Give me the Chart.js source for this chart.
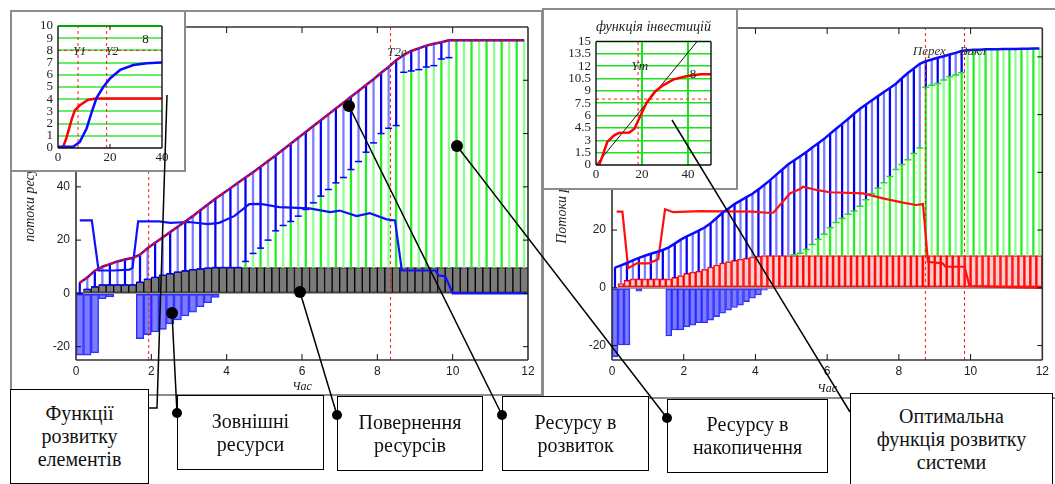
<!DOCTYPE html>
<html lang="uk">
<head>
<meta charset="utf-8">
<title>Потоки ресурсів</title>
<script src="https://cdn.jsdelivr.net/npm/chart.js@4.4.1/dist/chart.umd.min.js"></script>
<style>
body { margin: 0; background: #fff; }
#page { position: relative; width: 1055px; height: 484px; overflow: hidden; background: #fff; font-family: "Liberation Serif", "Times New Roman", serif; }
.frame { position: absolute; border: 2px solid #8c8c8c; box-sizing: border-box; }
.inset { position: absolute; border: 2px solid #8c8c8c; box-sizing: border-box; background: #fff; }
.box { position: absolute; border: 1.5px solid #000; box-sizing: border-box; background: #fff; display: flex; flex-direction: column; justify-content: center; align-items: center; text-align: center; font-family: "Liberation Serif", serif; font-size: 20px; line-height: 23px; color: #111; }
canvas, svg { position: absolute; }
</style>
</head>
<body>
<div id="page">
  <div class="frame" style="left:10px;top:10px;width:533px;height:386px"></div>
  <div class="frame" style="left:542px;top:8px;width:515px;height:391px"></div>
  <canvas id="leftMain" width="531" height="386" style="left:10px;top:10px"></canvas>
  <canvas id="rightMain" width="509" height="388" style="left:544px;top:10px"></canvas>
  <div class="inset" style="left:10px;top:10px;width:176px;height:162px"></div>
  <canvas id="inset1" width="172" height="157" style="left:12px;top:13px"></canvas>
  <div class="inset" style="left:542px;top:8px;width:196px;height:182px"></div>
  <canvas id="inset2" width="190" height="177" style="left:546px;top:11px"></canvas>

  <div class="box" style="left:10px;top:389px;width:139px;height:95px">Функції<br>розвитку<br>елементів</div>
  <div class="box" style="left:177px;top:395px;width:147px;height:75px">Зовнішні<br>ресурси</div>
  <div class="box" style="left:337px;top:396px;width:146px;height:75px">Повернення<br>ресурсів</div>
  <div class="box" style="left:502px;top:396px;width:147px;height:75px">Ресурсу в<br>розвиток</div>
  <div class="box" style="left:667px;top:399px;width:161px;height:74px">Ресурсу в<br>накопичення</div>
  <div class="box" style="left:850px;top:393px;width:203px;height:93px">Оптимальна<br>функція розвитку<br>системи</div>

  <svg width="1055" height="484" style="left:0;top:0">
    <g stroke="#000" stroke-width="1.5" fill="none">
      <polyline points="167,95 157,408 148,408"/>
      <line x1="172" y1="313" x2="177" y2="413"/>
      <line x1="300" y1="292" x2="337" y2="415"/>
      <line x1="349" y1="106" x2="502" y2="415"/>
      <line x1="457" y1="146" x2="667" y2="418"/>
      <line x1="672" y1="120" x2="850" y2="412"/>
    </g>
    <g fill="#000">
      <circle cx="172" cy="313" r="6"/>
      <circle cx="300" cy="292" r="6"/>
      <circle cx="349" cy="106" r="6"/>
      <circle cx="457" cy="146" r="6"/>
      <circle cx="177" cy="413" r="5"/>
      <circle cx="337" cy="415" r="5"/>
      <circle cx="502" cy="415" r="5"/>
      <circle cx="667" cy="418" r="5"/>
    </g>
  </svg>
</div>

<script>
// left panel, step 0.2
const tL = [0.1,0.3,0.5,0.7,0.9,1.1,1.3,1.5,1.7,1.9,2.1,2.3,2.5,2.7,2.9,3.1,3.3,3.5,3.7,3.9,
            4.1,4.3,4.5,4.7,4.9,5.1,5.3,5.5,5.7,5.9,6.1,6.3,6.5,6.7,6.9,7.1,7.3,7.5,7.7,7.9,
            8.1,8.3,8.5,8.7,8.9,9.1,9.3,9.5,9.7,9.9,10.1,10.3,10.5,10.7,10.9,11.1,11.3,11.5,11.7,11.9];
const totalL = [4,6,8.5,10,11,12,12.7,13.3,14.5,17,
                19,21,23,25,27,29,31.2,33.4,35.5,37.5,
                39.5,41.5,43.5,45.5,47.5,49.7,51.8,54,56.2,58.4,
                60.6,62.8,65,67.2,69.4,71.6,73.8,76,78.2,80.4,
                82.8,85,87.5,89.5,91,92,93,93.7,94.3,95,
                95,95,95,95,95,95,95,95,95,95];
const retL = [0,1.5,2.5,3.2,3.2,3.2,3.2,3.2,4.2,5.3,
              6.0,6.8,7.4,8.0,8.5,8.9,9.2,9.5,9.7,9.7,
              9.7,9.7,9.7,9.7,9.7,9.7,9.7,9.7,9.7,9.7,
              9.7,9.7,9.7,9.7,9.7,9.7,9.7,9.7,9.7,9.7,
              9.7,9.7,9.7,9.7,9.7,9.7,9.7,9.7,9.7,9.7,
              9.7,9.7,9.7,9.7,9.7,9.7,9.7,9.7,9.7,9.7];
const extL = [-23.2,-23.2,-22.3,-2,-1.3,0,0,0,-17,-15.5,
              -14.5,-13.5,-11.5,-10,-8.5,-7,-5,-3.5,-1.5,0,
              0,0,0,0,0,0,0,0,0,0, 0,0,0,0,0,0,0,0,0,0,
              0,0,0,0,0,0,0,0,0,0, 0,0,0,0,0,0,0,0,0,0];
const capL = [0,1.5,2.5,3.2,3.2,3.2,3.2,3.2,4.2,5.3,
              6.0,6.8,7.4,8.0,8.5,8.9,9.2,9.5,9.7,9.7,
              9.7,9.7,12,15,17,20,23.5,25.5,27,29,
              31.5,34,36.5,39,41.5,43.5,46.5,49.5,53,56.5,
              60,62,63,83,83.5,84,85,85.5,88,88.5,
              95,95,95,95,95,95,95,95,95,95];
const elemLX = [0.1,0.42,0.6,1.0,1.42,1.5,1.65,2.2,2.5,3.0,3.5,3.8,4.2,4.6,4.9,5.4,6.2,6.75,7.0,7.45,7.8,8.25,8.47,8.65,9.55,9.62,9.8,10.0,12];
const elemLY = [27.4,27.4,8.6,8.6,8.9,9.6,27,27,26.5,26.8,26,26.5,29,33.5,33.6,32.4,31.9,30.5,31.1,29,30.1,27.8,27.4,8.6,8.6,6.7,6.5,0,0];
const markLX = [1.93, 8.35];

// right panel, step 1/6
const tR = [0.083,0.25,0.417,0.583,0.75,0.917,1.083,1.25,1.417,1.583,1.75,1.917,
            2.083,2.25,2.417,2.583,2.75,2.917,3.083,3.25,3.417,3.583,3.75,3.917,
            4.083,4.25,4.417,4.583,4.75,4.917,5.083,5.25,5.417,5.583,5.75,5.917,
            6.083,6.25,6.417,6.583,6.75,6.917,7.083,7.25,7.417,7.583,7.75,7.917,
            8.083,8.25,8.417,8.583,8.75,8.917,9.083,9.25,9.417,9.583,9.75,9.917,
            10.083,10.25,10.417,10.583,10.75,10.917,11.083,11.25,11.417,11.583,11.75,11.917];
const totalR = [7,7.8,8.6,9.5,10.4,11.1,11.8,12.4,13.1,14,
                15.3,16.7,17.8,18.8,19.8,20.9,22.4,24.2,26,27.5,
                29,30.2,31.4,32.6,34.1,35.7,37.4,39.2,41,42.8,
                44.2,45.6,47,48.6,50.1,51.6,53.4,55.1,56.8,58.5,
                60.3,62,63.5,65,66.4,67.8,69.2,70.7,72.6,74.4,
                76,77.6,78.5,79.1,79.7,80.2,80.8,81.4,82,82.3,
                82.5,82.5,82.6,82.6,82.6,82.7,82.7,82.7,82.8,82.8,82.9,82.9];
const retR = [0,1.5,2.6,3.1,3.1,3.1,3.1,3.1,3.1,3.1,
              3.6,4.2,5.0,5.4,5.8,6.4,7.2,7.9,8.6,9.1,
              9.5,9.9,10.3,10.7,11.0,11.2,11.2,11.2,11.2,11.2,
              11.2,11.2,11.2,11.2,11.2,11.2,11.2,11.2,11.2,11.2,
              11.2,11.2,11.2,11.2,11.2,11.2,11.2,11.2,11.2,11.2,
              11.2,11.2,11.2,11.2,11.2,11.2,11.2,11.2,11.2,11.2,
              11.2,11.2,11.2,11.2,11.2,11.2,11.2,11.2,11.2,11.2,11.2,11.2];
const extR = [-23.9,-19.8,-19.8,0,-1.2,0,0,0,0,-16.7,
              -14.6,-14.6,-13.5,-12.9,-12.1,-12.1,-11.2,-10,-8.8,-7.7,
              -6.8,-6,-4.8,-3.6,-2.5,-0.8,0,0,0,0,
              0,0,0,0,0,0,0,0,0,0, 0,0,0,0,0,0,0,0,0,0,
              0,0,0,0,0,0,0,0,0,0, 0,0,0,0,0,0,0,0,0,0,0,0];
const capR = [0,1.5,2.6,3.1,3.1,3.1,3.1,3.1,3.1,3.1,
              3.6,4.2,5.0,5.4,5.8,6.4,7.2,7.9,8.6,9.1,
              9.5,9.9,10.3,10.7,11.0,11.2,11.2,11.2,11.2,11.2,
              11.5,12,13.3,15,16.8,18.6,20.8,22.6,24,25.5,
              26.6,28.3,30.5,32.6,34.5,36.4,38.6,41,42.7,44.4,
              46.5,48.4,69.5,70.2,70.8,72,73.1,73.7,74.5,82.3,
              82.5,82.5,82.6,82.6,82.6,82.7,82.7,82.7,82.8,82.8,82.9,82.9];
const elemRX = [0.13,0.29,0.45,0.69,1.03,1.29,1.48,1.71,2.45,3.93,4.31,4.5,4.96,5.23,5.33,5.7,6.07,7.0,7.56,8.11,8.48,8.67,8.72,8.81,9.22,9.3,9.83,9.97,12];
const elemRY = [26.4,26.4,6.8,8.5,8.5,9.9,27.2,26.2,26.6,26.4,26,26,32.7,34.1,35,33.9,33.1,32.7,31,29.5,28.7,29,22.3,9,8.5,7.3,7.3,0.6,0];
const markRX = [8.74, 9.83];

// inset 1: element development functions
const in1RedX = [0,1.9,3.2,5.2,6.5,8.4,11.6,14.8,20,40];
const in1RedY = [0,0.05,0.8,2.3,3.1,3.5,3.95,4.05,4.05,4.05];
const in1BlueX = [0,5.8,8.4,11,12.9,14.8,17.4,20,23.9,29,34.2,39.4,40];
const in1BlueY = [0.1,0.1,0.5,1.6,2.9,4.1,5.0,5.7,6.4,6.8,6.95,7.0,7.0];
const in1MarkX = [7.7, 18.7];
const in1MarkY = 8;

// inset 2: investment function
const in2RedX = [0,1.5,2.7,4.9,7.9,10,14.5,16.7,19,21.9,25.6,29.3,33.8,39.7,45.6,50];
const in2RedY = [0,0.1,1.0,2.8,3.6,3.9,3.95,4.4,5.8,7.5,8.9,9.7,10.4,10.8,11.0,11.0];
const in2TanX = [0, 44];
const in2TanY = [0, 15];
const in2MarkX = 18.3;
const in2MarkY = 8;

const xTicksMain = [0,2,4,6,8,10,12];
const yTicksLeft = [-20,0,20,40,60,80,100];
const yTicksRight = [-20,0,20,40,60,80];
const in1XTicks = [0,20,40];
const in1YTicks = [0,1,2,3,4,5,6,7,8,9,10];
const in2XTicks = [0,20,40];
const in2YTicks = [0,1.5,3,4.5,6,7.5,9,10.5,12,13.5,15];

const serif = '"Liberation Serif", "Times New Roman", serif';
const sans = '"Liberation Sans", Arial, sans-serif';
const clear = 'rgba(0,0,0,0)';

function pts(xs, ys) { return xs.map((x, i) => ({ x: x, y: ys[i] })); }
function vline(x, y0, y1) { return [{ x: x, y: y0 }, { x: x, y: y1 }]; }
function fixTicks(list) { return function (scale) { scale.ticks = list.map(v => ({ value: v })); }; }

function dashed(data, order) {
  return { type: 'line', data: data, borderColor: '#ff1a1a', borderWidth: 1, borderDash: [3, 3], pointRadius: 0, order: order };
}
function curve(data, color, width, order) {
  return { type: 'line', data: data, borderColor: color, borderWidth: width, pointRadius: 0, tension: 0, order: order };
}

// frame round the plot area with inward ticks
function framePlugin(o) {
  return {
    id: 'frame',
    afterDatasetsDraw(chart) {
      const { ctx, chartArea: a, scales } = chart;
      ctx.save();
      ctx.strokeStyle = o.color;
      ctx.lineWidth = o.width;
      ctx.beginPath();
      if (o.sides.includes('l')) { ctx.moveTo(a.left, a.top); ctx.lineTo(a.left, a.bottom); }
      if (o.sides.includes('b')) { ctx.moveTo(a.left, a.bottom); ctx.lineTo(a.right, a.bottom); }
      if (o.sides.includes('r')) { ctx.moveTo(a.right, a.bottom); ctx.lineTo(a.right, a.top); }
      if (o.sides.includes('t')) { ctx.moveTo(a.left, a.top); ctx.lineTo(a.right, a.top); }
      ctx.stroke();
      ctx.lineWidth = 1;
      ctx.strokeStyle = '#111';
      ctx.beginPath();
      if (o.tickX) {
        scales.x.ticks.forEach(t => {
          const px = scales.x.getPixelForValue(t.value);
          if (px < a.left + 2 || px > a.right - 2) return;
          ctx.moveTo(px, a.bottom); ctx.lineTo(px, a.bottom - o.tickX);
          ctx.moveTo(px, a.top); ctx.lineTo(px, a.top + o.tickX);
        });
      }
      if (o.tickY) {
        scales.y.ticks.forEach(t => {
          const py = scales.y.getPixelForValue(t.value);
          if (py < a.top + 2 || py > a.bottom - 2) return;
          ctx.moveTo(a.left, py); ctx.lineTo(a.left + o.tickY, py);
          ctx.moveTo(a.right, py); ctx.lineTo(a.right - o.tickY, py);
        });
      }
      ctx.stroke();
      ctx.restore();
    }
  };
}

function labelPlugin(items) {
  return {
    id: 'labels',
    afterDatasetsDraw(chart) {
      const { ctx, scales } = chart;
      ctx.save();
      ctx.textAlign = 'center';
      ctx.textBaseline = 'middle';
      items.forEach(it => {
        ctx.font = it.font;
        ctx.fillStyle = it.color || '#222';
        ctx.fillText(it.text, scales.x.getPixelForValue(it.x), scales.y.getPixelForValue(it.y));
      });
      ctx.restore();
    }
  };
}

function xAxis(min, max, list, h, font, pad, title) {
  return {
    type: 'linear', min: min, max: max, offset: false,
    afterBuildTicks: fixTicks(list),
    afterFit: function (s) { s.height = h; },
    grid: { display: false, drawTicks: false },
    border: { display: false },
    ticks: { padding: pad, font: font, color: '#222', maxRotation: 0, autoSkip: false },
    title: title || { display: false }
  };
}
function yAxis(min, max, list, w, font, pad, grid, title) {
  return {
    type: 'linear', min: min, max: max,
    afterBuildTicks: fixTicks(list),
    afterFit: function (s) { s.width = w; },
    grid: grid,
    border: { display: false },
    ticks: { padding: pad, font: font, color: '#222', autoSkip: false },
    title: title || { display: false }
  };
}

const mainTickFont = { family: sans, size: 12 };
const zeroGrid = {
  drawTicks: false,
  color: c => (c.tick && c.tick.value === 0 ? '#9c9c9c' : clear),
  lineWidth: 2
};
const alt = (a, b) => c => (c.dataIndex % 2 ? b : a);
const common = {
  responsive: false, animation: false, events: [],
  plugins: { legend: { display: false }, tooltip: { enabled: false } }
};

// left main chart
const blueStemL = tL.map((t, i) => ({ x: t, y: totalL[i] > capL[i] ? [capL[i], totalL[i]] : null }));
const greenStemL = tL.map((t, i) => ({ x: t, y: capL[i] > retL[i] ? [retL[i], capL[i]] : null }));
const capPtsL = tL.map((t, i) => ({ x: t, y: totalL[i] > capL[i] ? capL[i] : null }));

new Chart(document.getElementById('leftMain'), {
  type: 'bar',
  data: {
    datasets: [
      Object.assign(curve(pts(tL, totalL), '#ff0000', 2, 0), { borderDash: [4, 2] }),
      curve(pts(tL, totalL), '#1a1aff', 2.5, 1),
      curve(pts(elemLX, elemLY), '#1010ff', 2.2, 2),
      dashed(vline(markLX[0], -25, 100), 3),
      dashed(vline(markLX[1], -25, 100), 3),
      { type: 'line', data: capPtsL, showLine: false, pointStyle: 'line', pointRadius: 3.5,
        pointBorderColor: '#0000ff', pointBorderWidth: 1.5, order: 4 },
      { type: 'bar', data: blueStemL, backgroundColor: alt('#0000f0', '#7c7cff'), barThickness: 1.6, grouped: false, order: 5 },
      { type: 'bar', data: greenStemL, backgroundColor: alt('#22ee22', '#8cff8c'), barThickness: 1.6, grouped: false, order: 6 },
      { type: 'bar', data: pts(tL, extL.map(v => v || null)), backgroundColor: 'rgba(80,80,255,0.75)', borderColor: '#2b2bff',
        borderWidth: 1, borderSkipped: false, barPercentage: 1, categoryPercentage: 1, grouped: false, order: 7 },
      { type: 'bar', data: pts(tL, retL.map(v => v || null)), backgroundColor: '#7a7a7a', borderColor: '#000',
        borderWidth: 1, borderSkipped: false, barPercentage: 1, categoryPercentage: 1, grouped: false, order: 8 }
    ]
  },
  options: Object.assign({}, common, {
    layout: { padding: { left: 8, top: 17, right: 13, bottom: 0 } },
    scales: {
      x: xAxis(0, 12, xTicksMain, 36, mainTickFont, 4,
        { display: true, text: 'Час', font: { family: serif, size: 12, style: 'italic' }, color: '#222', padding: { top: 0, bottom: 2 } }),
      y: yAxis(-25, 100, yTicksLeft, 58, mainTickFont, 6, zeroGrid,
        { display: true, text: 'потоки ресурсів', font: { family: serif, size: 14, style: 'italic' }, color: '#222', padding: { top: 4, bottom: 4 } })
    }
  }),
  plugins: [
    framePlugin({ color: '#333', width: 1.6, sides: 'lbrt', tickX: 6, tickY: 5 }),
    labelPlugin([{ text: 'T2e', x: 8.52, y: 90.5, font: 'italic 13px ' + serif, color: '#333' }])
  ]
});

// right main chart
const blueStemR = tR.map((t, i) => ({ x: t, y: totalR[i] > capR[i] ? [capR[i], totalR[i]] : null }));
const greenStemR = tR.map((t, i) => ({ x: t, y: capR[i] > retR[i] ? [retR[i], capR[i]] : null }));
const capPtsR = tR.map((t, i) => ({ x: t, y: totalR[i] > capR[i] && capR[i] > retR[i] ? capR[i] : null }));

new Chart(document.getElementById('rightMain'), {
  type: 'bar',
  data: {
    datasets: [
      curve(pts(tR, totalR), '#0a0aff', 2.5, 0),
      curve(pts(elemRX, elemRY), '#ff1010', 2.2, 1),
      dashed(vline(markRX[0], -25, 90), 2),
      dashed(vline(markRX[1], -25, 90), 2),
      { type: 'line', data: capPtsR, showLine: false, pointStyle: 'line', pointRadius: 3.5,
        pointBorderColor: '#22dd22', pointBorderWidth: 1.5, order: 3 },
      { type: 'bar', data: blueStemR, backgroundColor: alt('#0000f0', '#7c7cff'), barThickness: 1.6, grouped: false, order: 4 },
      { type: 'bar', data: greenStemR, backgroundColor: alt('#22ee22', '#8cff8c'), barThickness: 1.6, grouped: false, order: 5 },
      { type: 'bar', data: pts(tR, extR.map(v => v || null)), backgroundColor: 'rgba(80,80,255,0.75)', borderColor: '#2b2bff',
        borderWidth: 1, borderSkipped: false, barPercentage: 1, categoryPercentage: 1, grouped: false, order: 6 },
      { type: 'bar', data: pts(tR, retR.map(v => v || null)), backgroundColor: 'rgba(255,130,130,0.38)', borderColor: '#ff0000',
        borderWidth: 1, borderSkipped: false, barPercentage: 1, categoryPercentage: 1, grouped: false, order: 7 }
    ]
  },
  options: Object.assign({}, common, {
    layout: { padding: { left: 6, top: 18, right: 10, bottom: 0 } },
    scales: {
      x: xAxis(0, 12, xTicksMain, 38, mainTickFont, 4,
        { display: true, text: 'Час', font: { family: serif, size: 12, style: 'italic' }, color: '#222', padding: { top: 0, bottom: 2 } }),
      y: yAxis(-25, 90, yTicksRight, 62, mainTickFont, 6, zeroGrid,
        { display: true, text: 'Потоки ресурсів', font: { family: serif, size: 14, style: 'italic' }, color: '#222', padding: { top: 4, bottom: 4 } })
    }
  }),
  plugins: [
    framePlugin({ color: '#333', width: 1.6, sides: 'lbrt', tickX: 6, tickY: 5 }),
    labelPlugin([
      { text: 'Перех', x: 8.85, y: 81.7, font: 'italic 13px ' + serif, color: '#333' },
      { text: 'Викл', x: 10.06, y: 81.7, font: 'italic 13px ' + serif, color: '#333' }
    ])
  ]
});

// inset 1
const insetFont = { family: serif, size: 13 };
new Chart(document.getElementById('inset1'), {
  type: 'line',
  data: {
    datasets: [
      curve(pts(in1BlueX, in1BlueY), '#0a0aff', 2.5, 0),
      curve(pts(in1RedX, in1RedY), '#ff0000', 2.5, 1),
      dashed(vline(in1MarkX[0], 0, 10), 2),
      dashed(vline(in1MarkX[1], 0, 10), 2),
      dashed([{ x: 0, y: in1MarkY }, { x: 40, y: in1MarkY }], 2)
    ]
  },
  options: Object.assign({}, common, {
    layout: { padding: { left: 0, top: 13, right: 22, bottom: 0 } },
    scales: {
      x: xAxis(0, 40, in1XTicks, 22, insetFont, 2),
      y: yAxis(0, 10, in1YTicks, 46, insetFont, 5, {
        drawTicks: false,
        color: c => (c.tick.value === 0 ? clear : c.tick.value === 10 ? '#00a800' : '#66ec66'),
        lineWidth: 2
      })
    }
  }),
  plugins: [
    framePlugin({ color: '#111', width: 1.4, sides: 'lbr', tickX: 4 }),
    labelPlugin([
      { text: 'Y1', x: 8.3, y: 7.9, font: 'italic 12px ' + serif },
      { text: 'Y2', x: 20.8, y: 7.9, font: 'italic 12px ' + serif },
      { text: '8', x: 33.7, y: 8.9, font: '13px ' + serif }
    ])
  ]
});

// inset 2
new Chart(document.getElementById('inset2'), {
  type: 'line',
  data: {
    datasets: [
      curve(pts(in2RedX, in2RedY), '#ff0000', 2.5, 0),
      curve(pts(in2TanX, in2TanY), '#111', 1, 1),
      dashed(vline(in2MarkX, 0, 15), 2),
      dashed([{ x: 0, y: in2MarkY }, { x: 50, y: in2MarkY }], 2)
    ]
  },
  options: Object.assign({}, common, {
    layout: { padding: { left: 0, top: 0, right: 25, bottom: 0 } },
    plugins: {
      legend: { display: false }, tooltip: { enabled: false },
      title: { display: true, fullSize: false, text: 'функція інвестицій', color: '#222',
               font: { family: serif, size: 14.5, style: 'italic', weight: 'normal' }, padding: { top: 7, bottom: 6 } }
    },
    scales: {
      x: Object.assign(xAxis(0, 50, in2XTicks, 23, insetFont, 2), {
        grid: { drawTicks: false, color: c => (c.tick.value === 0 ? clear : '#1fe01f'), lineWidth: 2 }
      }),
      y: yAxis(0, 15, in2YTicks, 50, insetFont, 5, {
        drawTicks: false,
        color: c => (c.tick.value === 0 ? clear : '#1fe01f'),
        lineWidth: 1.5
      })
    }
  }),
  plugins: [
    framePlugin({ color: '#111', width: 1.4, sides: 'lbrt' }),
    labelPlugin([
      { text: 'Ym', x: 19.1, y: 12, font: 'italic 13px ' + serif },
      { text: '8', x: 42.2, y: 11, font: '13px ' + serif }
    ])
  ]
});
</script>
</body>
</html>
